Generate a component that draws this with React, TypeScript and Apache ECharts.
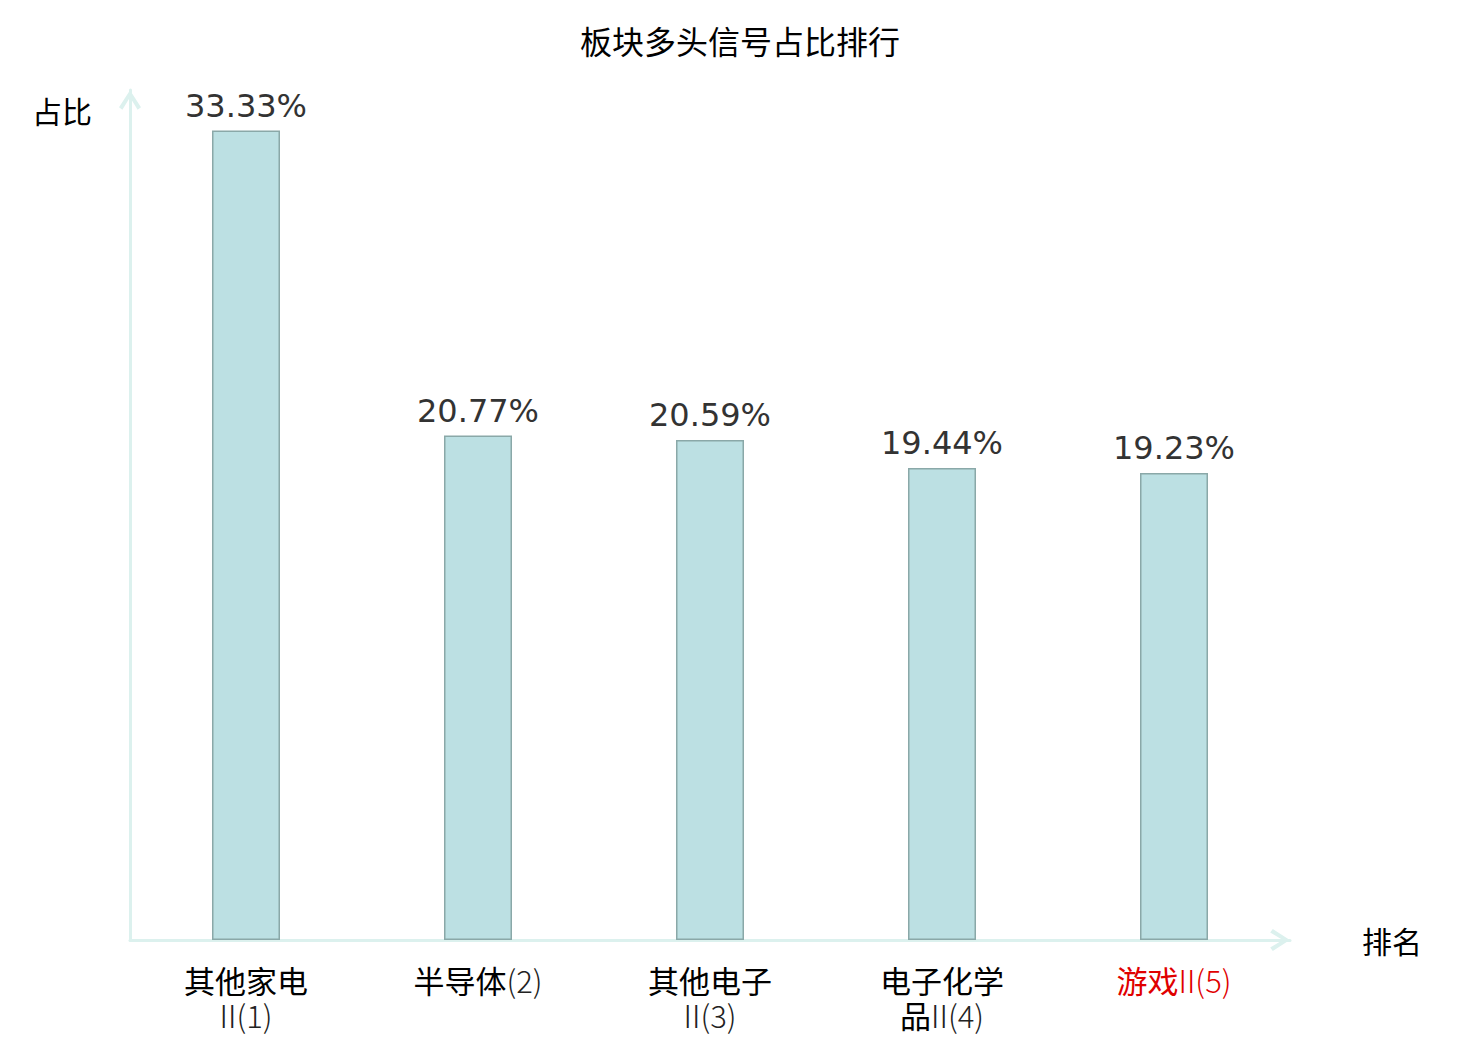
import React, { useEffect, useRef } from "react";
import * as echarts from "echarts";

const titleText = "板块多头信号占比排行";
const categories = ["其他家电II", "半导体", "其他电子II", "电子化学品II", "游戏II"];
const ranks = [1, 2, 3, 4, 5];
const shares = [33.33, 20.77, 20.59, 19.44, 19.23];
const highlightIndex = 4;

const CJK = "'Noto Sans CJK SC', 'Noto Sans', sans-serif";

function runs(line: string, red: boolean): string {
  const out: string[] = [];
  let cur = "";
  let curIsCjk: boolean | null = null;
  for (const ch of line) {
    const isCjk = /[\u4e00-\u9fff]/.test(ch);
    if (curIsCjk === null || isCjk === curIsCjk) {
      cur += ch;
    } else {
      out.push(`{${curIsCjk ? "c" : "l"}${red ? "r" : ""}|${cur}}`);
      cur = ch;
    }
    curIsCjk = isCjk;
  }
  if (cur) out.push(`{${curIsCjk ? "c" : "l"}${red ? "r" : ""}|${cur}}`);
  return out.join("");
}

function formatLabel(value: string, index: number): string {
  const full = `${value}(${ranks[index]})`;
  const red = index === highlightIndex;
  let lines: string[];
  if (value.length > 4) {
    lines = [full.slice(0, 4), full.slice(4)];
  } else {
    lines = [full];
  }
  return lines.map((l) => runs(l, red)).join("\n");
}

const arrowPath =
  "path://M11,0 L22,17 L18.6,19.6 L11,7 L3.4,19.6 L0,17 Z";

export default function App() {
  const ref = useRef<HTMLDivElement>(null);
  useEffect(() => {
    document.body.style.margin = "0";
    if (!ref.current) return;
    const chart = echarts.init(ref.current, undefined, { renderer: "svg" });
    const axisLineStyle = { color: "#dcf1ee", width: 3 };
    const baseRich = (color: string) => ({
      fontFamily: CJK,
      fontSize: 31,
      lineHeight: 35,
      color,
    });
    chart.setOption({
      animation: false,
      title: {
        text: titleText,
        left: "center",
        top: 19,
        textStyle: {
          fontFamily: CJK,
          fontSize: 32,
          fontWeight: "normal",
          color: "#000",
        },
      },
      grid: { left: 130, right: 190, top: 90, bottom: 100, containLabel: false },
      xAxis: {
        type: "category",
        data: categories,
        name: "排名",
        nameLocation: "end",
        nameGap: 72,
        nameTextStyle: {
          fontFamily: CJK,
          fontSize: 30,
          color: "#000",
          verticalAlign: "middle",
        },
        axisLine: {
          show: true,
          lineStyle: axisLineStyle,
          symbol: ["none", arrowPath],
          symbolSize: [22, 20],
          symbolOffset: [0, -10],
        },
        axisTick: { show: false },
        axisLabel: {
          interval: 0,
          margin: 22,
          formatter: formatLabel,
          rich: {
            c: { ...baseRich("#000") },
            l: { ...baseRich("#222"), fontWeight: 300 },
            cr: { ...baseRich("#e00000") },
            lr: { ...baseRich("#e00000"), fontWeight: 300 },
          },
        },
      },
      yAxis: {
        type: "value",
        min: 0,
        max: 35,
        name: "占比",
        nameLocation: "end",
        nameGap: -20,
        nameTextStyle: {
          fontFamily: CJK,
          fontSize: 30,
          color: "#000",
          align: "right",
          verticalAlign: "middle",
          padding: [0, 38, 0, 0],
        },
        axisLine: {
          show: true,
          lineStyle: axisLineStyle,
          symbol: ["none", arrowPath],
          symbolSize: [22, 20],
          symbolOffset: [0, -10],
        },
        axisTick: { show: false },
        axisLabel: { show: false },
        splitLine: { show: false },
      },
      series: [
        {
          type: "bar",
          data: shares,
          barWidth: 68,
          itemStyle: {
            color: "#bce0e3",
            borderColor: "#8aa8a8",
            borderWidth: 1.5,
          },
          label: {
            show: true,
            position: "top",
            distance: 9,
            formatter: (p: any) => `${p.value.toFixed(2)}%`,
            fontFamily: "DejaVu Sans",
            fontSize: 32,
            color: "#333",
          },
        },
      ],
    });
    return () => chart.dispose();
  }, []);
  return <div ref={ref} style={{ width: 1480, height: 1040 }} />;
}
